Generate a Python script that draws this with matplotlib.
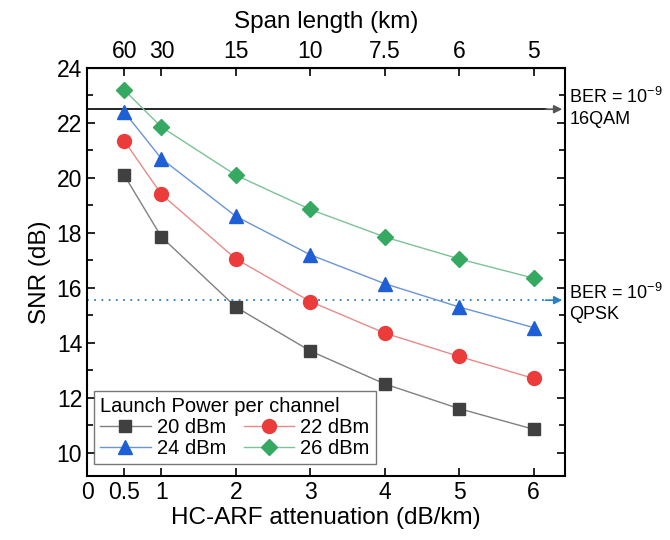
import matplotlib
matplotlib.use("Agg")
import matplotlib.pyplot as plt
from matplotlib.ticker import MultipleLocator

plt.rcParams['font.family'] = ['Liberation Sans', 'DejaVu Sans']

attenuation = [0.5, 1, 2, 3, 4, 5, 6]
span_labels = ['60', '30', '15', '10', '7.5', '6', '5']
snr_20 = [20.1, 17.85, 15.3, 13.7, 12.5, 11.6, 10.85]
snr_22 = [21.35, 19.4, 17.05, 15.5, 14.35, 13.5, 12.7]
snr_24 = [22.4, 20.7, 18.6, 17.2, 16.15, 15.3, 14.55]
snr_26 = [23.2, 21.85, 20.1, 18.85, 17.85, 17.05, 16.35]
series_labels = ['20 dBm', '22 dBm', '24 dBm', '26 dBm']
ber_16qam = 22.5
ber_qpsk = 15.55

fig = plt.figure(figsize=(6.7, 5.4), dpi=100)
ax = fig.add_axes([87/670, 1-476/540, (565-87)/670, (476-68)/540])

styles = [
    (snr_20, '#404040', '#808080', 's', 9),
    (snr_22, '#ec3b3b', '#e88a8a', 'o', 10),
    (snr_24, '#1f5fd6', '#6a94d8', '^', 10),
    (snr_26, '#35a861', '#7cc297', 'D', 8.5),
]
handles = []
for (vals, mc, lc, mk, ms), lab in zip(styles, series_labels):
    h, = ax.plot(attenuation, vals, color=lc, lw=1.0, marker=mk, ms=ms,
                 markerfacecolor=mc, markeredgecolor=mc, label=lab, zorder=3)
    handles.append(h)

xmax = 6.42
ax.set_xlim(0, xmax)
ax.set_ylim(9.15, 24)

ax.plot([0, xmax - 0.25], [ber_16qam, ber_16qam], color='black', lw=1.2, zorder=2)
ax.annotate('', xy=(xmax, ber_16qam), xytext=(xmax - 0.3, ber_16qam),
            arrowprops=dict(arrowstyle='-|>', color='#555555', lw=1.2, mutation_scale=12),
            annotation_clip=False)
ax.plot([0, xmax - 0.25], [ber_qpsk, ber_qpsk], color='#2a7fc0', lw=1.3, ls=(0, (1, 3)), zorder=2)
ax.annotate('', xy=(xmax, ber_qpsk), xytext=(xmax - 0.3, ber_qpsk),
            arrowprops=dict(arrowstyle='-|>', color='#2a7fc0', lw=1.2, mutation_scale=12),
            annotation_clip=False)

ax.text(xmax + 0.06, ber_16qam + 0.05, 'BER = 10$^{\\mathregular{-9}}$\n16QAM',
        fontsize=13, va='center', ha='left', linespacing=1.3, clip_on=False)
ax.text(xmax + 0.06, ber_qpsk - 0.1, 'BER = 10$^{\\mathregular{-9}}$\nQPSK',
        fontsize=13, va='center', ha='left', linespacing=1.3, clip_on=False)

ax.set_xticks([0] + attenuation)
ax.set_xticklabels(['0', '0.5', '1', '2', '3', '4', '5', '6'])
ax.yaxis.set_major_locator(MultipleLocator(2))
ax.yaxis.set_minor_locator(MultipleLocator(1))
ax.tick_params(axis='both', which='major', direction='in', length=6, width=1.2,
               labelsize=16.5, right=True)
ax.tick_params(axis='y', which='minor', direction='in', length=4, width=1.2, right=True)
for s in ax.spines.values():
    s.set_linewidth(1.5)

ax.set_xlabel('HC-ARF attenuation (dB/km)', fontsize=17.5, labelpad=2)
ax.set_ylabel('SNR (dB)', fontsize=17.5, labelpad=4)

top = ax.secondary_xaxis('top')
top.set_xticks(attenuation)
top.set_xticklabels(span_labels)
top.tick_params(direction='in', length=6, width=1.2, labelsize=16.5)
top.set_xlabel('Span length (km)', fontsize=17.5, labelpad=9)

order = [0, 2, 1, 3]
leg = ax.legend([handles[i] for i in order], [series_labels[i] for i in order],
                title='Launch Power per channel', ncol=2, loc='lower left',
                fontsize=14.5, title_fontsize=14.5, frameon=True, fancybox=False,
                edgecolor='#555555', borderpad=0.3, columnspacing=0.9,
                handlelength=2.5, handletextpad=0.3, labelspacing=0.1,
                borderaxespad=0.0, bbox_to_anchor=(0.015, 0.03))
leg.get_frame().set_linewidth(1.0)
leg._legend_box.align = 'left'

fig.savefig('out.png', dpi=100)
